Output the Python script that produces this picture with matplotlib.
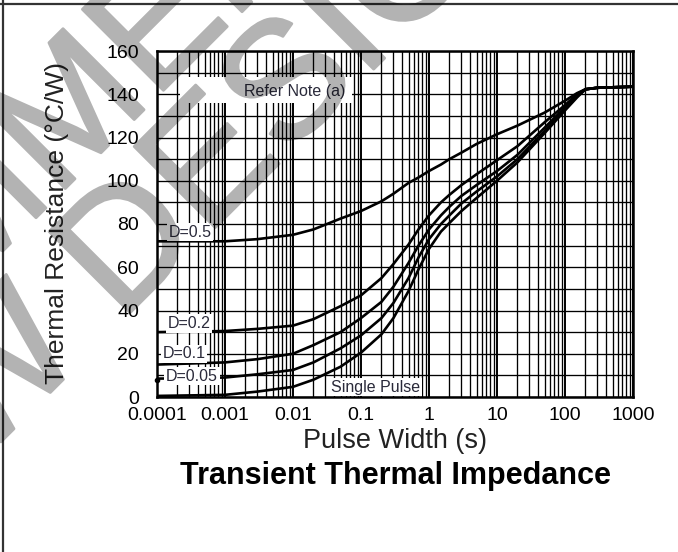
import matplotlib.pyplot as plt
import matplotlib.patheffects as pe
from matplotlib.ticker import FixedLocator, LogLocator, MultipleLocator, NullFormatter
from matplotlib.patches import Rectangle
from matplotlib.lines import Line2D

plt.rcParams['font.family'] = ['Liberation Sans', 'DejaVu Sans']

# pulse width (s) and thermal resistance (degC/W)
pulse_width = [1e-4, 1e-3, 3e-3, 0.01, 0.02, 0.05, 0.1, 0.2, 0.3, 0.5, 0.7, 1,
               1.5, 2, 3, 5, 10, 20, 50, 100, 150, 200, 300, 1000]
d_05 = [72, 72, 73, 75, 77.5, 82.5, 86, 90.5, 94, 99, 101.5, 104.5,
        107.5, 110, 113, 117, 121.5, 125.5, 131.5, 137, 140.5, 142.3, 143, 143.5]
d_02 = [30, 30.5, 31.5, 33, 36, 42, 47, 55, 61.5, 70.5, 77.5, 84,
        90, 93.5, 98, 103, 109.5, 116, 127, 135, 140, 142.3, 143, 143.5]
d_01 = [15, 16, 17.5, 20, 24, 30, 36.5, 44, 51, 62, 70, 77.5,
        84, 88, 93, 98, 104.5, 112, 124.5, 134, 139.5, 142.3, 143, 143.5]
d_005 = [8.5, 9, 10.5, 12.5, 16, 22.5, 28.5, 36.5, 43.5, 55, 64.5, 73,
         80, 84, 89.5, 95, 102, 110, 123, 133, 139, 142.3, 143, 143.5]
single = [0.5, 1, 2.5, 4.7, 8, 14, 20.5, 29, 36.5, 49, 59, 68.5,
          76.5, 80.5, 86, 92, 100, 108.5, 122, 132.5, 138.5, 142.3, 143, 143.5]

curve_labels = ['D=0.5', 'D=0.2', 'D=0.1', 'D=0.05', 'Single Pulse']
label_x = [3.05e-4, 2.95e-4, 2.5e-4, 3.27e-4, 0.166]
label_y = [76.3, 33.8, 19.9, 9.7, 4.6]

x_ticks = [1e-4, 1e-3, 1e-2, 0.1, 1, 10, 100, 1000]
x_ticklabels = ['0.0001', '0.001', '0.01', '0.1', '1', '10', '100', '1000']
y_ticks = [0, 20, 40, 60, 80, 100, 120, 140, 160]


def fade(im, dpi):
    # draw the watermark opaque, then make the whole layer see-through at once
    out = im.copy()
    out[..., 3] *= 0.3
    return out, 0, 0


fig = plt.figure(figsize=(6.78, 5.52), dpi=100)
ax = fig.add_axes([157 / 678, 155 / 552, 476 / 678, 346 / 552])

for vals in [d_05, d_02, d_01, d_005, single]:
    ax.plot(pulse_width, vals, color='black', lw=1.9, zorder=2,
            solid_capstyle='round', solid_joinstyle='round')

ax.set_xscale('log')
ax.set_xlim(1e-4, 1000)
ax.set_ylim(0, 160)

ax.xaxis.set_major_locator(FixedLocator(x_ticks))
ax.set_xticklabels(x_ticklabels)
ax.xaxis.set_minor_locator(LogLocator(base=10, subs=range(2, 10), numticks=20))
ax.xaxis.set_minor_formatter(NullFormatter())
ax.set_yticks(y_ticks)
ax.yaxis.set_minor_locator(MultipleLocator(10))

ax.set_axisbelow(True)
ax.grid(which='major', axis='x', color='black', lw=1.4)
ax.grid(which='minor', axis='x', color='black', lw=0.95)
ax.grid(which='both', axis='y', color='black', lw=0.95)
ax.tick_params(which='both', length=0)
ax.tick_params(axis='x', pad=7.5, labelsize=14)
ax.tick_params(axis='y', pad=13, labelsize=14)
for s in ax.spines.values():
    s.set_linewidth(1.8)

# white box behind the note
ax.add_patch(Rectangle((2.2e-4, 136), 0.074 - 2.2e-4, 12, facecolor='white',
                       edgecolor='none', zorder=1))
ax.text(0.0107, 141.5, 'Refer Note (a)', fontsize=11.5, color='#2a2a3a',
        ha='center', va='center', zorder=3)

for lab, lx, ly in zip(curve_labels, label_x, label_y):
    ax.text(lx, ly, lab, fontsize=11.5, color='#2a2a3a', ha='center', va='center',
            zorder=3, bbox=dict(boxstyle='square,pad=0.12', fc='white', ec='none'))

ax.plot([1e-4], [8], 'o', color='black', ms=3, clip_on=False, zorder=4)

ax.set_xlabel('Pulse Width (s)', fontsize=19.5, color='#222222', va='center')
ax.xaxis.set_label_coords(0.499, (397 - 441) / 346)
ax.set_ylabel('Thermal Resistance (°C/W)', fontsize=19, color='#222222', va='center')
ax.yaxis.set_label_coords((57 - 157) / 476, (397 - 223) / 346)
ax.set_title('Transient Thermal Impedance', fontsize=22, fontweight='bold',
             y=(397 - 476) / 346, va='center', pad=0)

# page frame
fig.add_artist(Line2D([0, 1], [1 - 3.5 / 552, 1 - 3.5 / 552], color='#333333', lw=1.6))
fig.add_artist(Line2D([3 / 678, 3 / 678], [0, 1], color='#333333', lw=1.6))

# watermark
thick = [pe.Stroke(linewidth=2, foreground='black'), pe.Normal()]
for txt, px, py in [('NOT RECOMMENDED FOR', 62, 131), ('NEW DESIGN', 162, 220)]:
    t = fig.text(px / 678, 1 - py / 552, txt, fontsize=120, rotation=45,
                 rotation_mode='anchor', ha='center', va='center', color='black',
                 zorder=10, path_effects=thick)
    t.set_agg_filter(fade)

fig.savefig('out.png', dpi=100)
